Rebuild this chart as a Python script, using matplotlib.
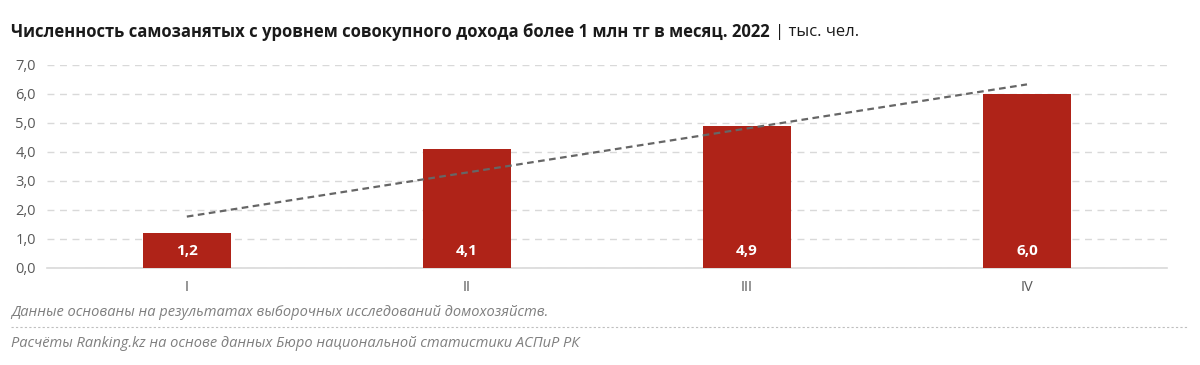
import matplotlib
matplotlib.use("Agg")
import matplotlib.pyplot as plt
import numpy as np
from matplotlib.lines import Line2D

categories = ["I", "II", "III", "IV"]
values = [1.2, 4.1, 4.9, 6.0]
value_labels = ["1,2", "4,1", "4,9", "6,0"]
yticks = [0, 1, 2, 3, 4, 5, 6, 7]
ytick_labels = ["0,0", "1,0", "2,0", "3,0", "4,0", "5,0", "6,0", "7,0"]

title = "Численность самозанятых с уровнем совокупного дохода более 1 млн тг в месяц. 2022"
title_unit = "| тыс. чел."
note1 = "Данные основаны на результатах выборочных исследований домохозяйств."
note2 = "Расчёты Ranking.kz на основе данных Бюро национальной статистики АСПиР РК"

plt.rcParams['font.family'] = ['Open Sans', 'DejaVu Sans']

fig = plt.figure(figsize=(12, 3.65), dpi=100)
ax = fig.add_axes([0.039, 0.266, 0.9335, 0.556])

x = np.arange(len(categories))
bar_color = "#AF2318"
ax.bar(x, values, width=0.315, color=bar_color, zorder=3)

for xi, lab in zip(x, value_labels):
    ax.text(xi, 0.6, lab, ha="center", va="center", color="white",
            fontsize=11, fontweight="bold", zorder=4)

# linear trend line
coef = np.polyfit(x, values, 1)
xt = np.array([x[0], x[-1]])
ax.plot(xt, np.polyval(coef, xt), linestyle=(0, (3, 2)), color="#666666",
        linewidth=1.6, zorder=5)

ax.set_xlim(-0.5, len(categories) - 0.5)
ax.set_ylim(0, 7)
ax.set_yticks(yticks)
ax.set_yticklabels(ytick_labels)
ax.set_xticks(x)
ax.set_xticklabels(categories)
ax.tick_params(axis="both", length=0, colors="#595959", labelsize=10.5)
ax.tick_params(axis="y", pad=8)
ax.tick_params(axis="x", pad=9)
ax.yaxis.grid(True, linestyle=(0, (5, 4)), color="#D9D9D9", linewidth=1, zorder=0)
for s in ["top", "right", "left"]:
    ax.spines[s].set_visible(False)
ax.spines["bottom"].set_color("#D9D9D9")
ax.spines["bottom"].set_linewidth(1.2)

t1 = fig.text(0.009, 0.912, title, fontsize=12, fontweight="bold",
              color="#1a1a1a", ha="left", va="center")
fig.canvas.draw()
bb = t1.get_window_extent()
fig.text((bb.x1 + 6) / fig.bbox.width, 0.912, title_unit, fontsize=12,
         color="#1a1a1a", ha="left", va="center")

fig.text(0.009, 0.145, note1, fontsize=10.5, style="italic", color="#7f7f7f",
         ha="left", va="center")
fig.add_artist(Line2D([0.009, 0.99], [0.103, 0.103], transform=fig.transFigure,
                      color="#BFBFBF", linestyle=(0, (2, 2)), linewidth=0.8))
fig.text(0.009, 0.058, note2, fontsize=10.5, style="italic", color="#7f7f7f",
         ha="left", va="center")

fig.savefig("out.png", dpi=100)
